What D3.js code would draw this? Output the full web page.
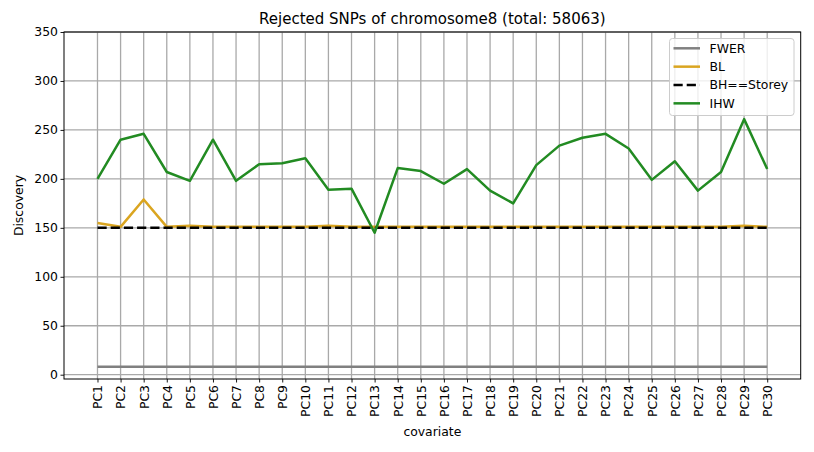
<!DOCTYPE html>
<html><head><meta charset="utf-8">
<script src="https://cdn.jsdelivr.net/npm/d3@7"></script>
<style>body{margin:0;background:#fff}text{font-family:"DejaVu Sans",sans-serif}</style>
</head><body><svg id="c" width="814" height="452"></svg>
<script>
const categories = Array.from({length:30},(_,i)=>"PC"+(i+1));
const fwer = [8,8,8,8,8,8,8,8,8,8,8,8,8,8,8,8,8,8,8,8,8,8,8,8,8,8,8,8,8,8];
const bl = [155,151,179,151,152,151,151,151,151,151,152,151,151,151,151,151,151,151,151,151,151,151,151,151,151,151,151,151,152,151];
const bhStorey = [150,150,150,150,150,150,150,150,150,150,150,150,150,150,150,150,150,150,150,150,150,150,150,150,150,150,150,150,150,150];
const ihw = [200,240,246,207,198,240,198,215,216,221,189,190,145,211,208,195,210,188,175,214,234,242,246,231,199,218,188,207,261,210];
const yTicks = [0,50,100,150,200,250,300,350];
const title = "Rejected SNPs of chromosome8 (total: 58063)";

const FS = "12.4px";
const svg = d3.select("#c");
const L=64,R=800.7,T=32,B=379;
const x = d3.scaleLinear().domain([-1.45,29+1.45]).range([L,R]);
const y = d3.scaleLinear().domain([0,350]).range([374.7,32]);
const g = svg.append("g");
// grid
g.selectAll(".gx").data(categories).join("line")
  .attr("x1",(d,i)=>x(i)).attr("x2",(d,i)=>x(i)).attr("y1",T).attr("y2",B)
  .attr("stroke","#a9a9a9").attr("stroke-width",1.3);
g.selectAll(".gy").data(yTicks).join("line")
  .attr("x1",L).attr("x2",R).attr("y1",d=>y(d)).attr("y2",d=>y(d))
  .attr("stroke","#a9a9a9").attr("stroke-width",1.3);

const series = [
  {name:"FWER",data:fwer,color:"#808080",dash:null},
  {name:"BL",data:bl,color:"#DAA520",dash:null},
  {name:"BH==Storey",data:bhStorey,color:"#000",dash:"9.2,4"},
  {name:"IHW",data:ihw,color:"#228B22",dash:null}
];
const line = d3.line().x((d,i)=>x(i)).y(d=>y(d));
series.forEach(s=>{
  g.append("path").attr("d",line(s.data)).attr("fill","none")
   .attr("stroke",s.color).attr("stroke-width",2.5)
   .attr("stroke-dasharray",s.dash).attr("stroke-linejoin","round");
});
// axes
const xa = svg.append("g").attr("transform",`translate(0,${B})`)
  .call(d3.axisBottom(x).tickValues(d3.range(30)).tickFormat(i=>categories[i]).tickSize(3.5).tickSizeOuter(0));
xa.select(".domain").remove();
xa.selectAll("text").attr("transform","rotate(-90)").attr("text-anchor","end")
  .attr("x",-6).attr("y",0).attr("dy","0.35em").attr("font-size",FS).attr("fill","#000")
  .style("font-family","DejaVu Sans");
const ya = svg.append("g").attr("transform",`translate(${L},0)`)
  .call(d3.axisLeft(y).tickValues(yTicks).tickSize(3.5).tickSizeOuter(0));
ya.select(".domain").remove();
ya.selectAll("text").attr("font-size",FS).attr("fill","#000").attr("x",-6).style("font-family","DejaVu Sans");
svg.selectAll(".tick line").attr("stroke","#000").attr("stroke-width",0.9);
svg.append("rect").attr("x",L).attr("y",T).attr("width",R-L).attr("height",B-T)
  .attr("fill","none").attr("stroke","#000").attr("stroke-width",1);
// title & labels
svg.append("text").attr("x",(L+R)/2).attr("y",24).attr("text-anchor","middle").attr("font-size","15px").text(title);
svg.append("text").attr("x",(L+R)/2).attr("y",436).attr("text-anchor","middle").attr("font-size",FS).text("covariate");
svg.append("text").attr("transform",`translate(23,${(T+B)/2}) rotate(-90)`).attr("text-anchor","middle").attr("font-size",FS).text("Discovery");
// legend
const lg = svg.append("g");
lg.append("rect").attr("x",669.5).attr("y",38.5).attr("width",124.5).attr("height",77).attr("rx",3)
  .attr("fill","#fff").attr("fill-opacity",0.8).attr("stroke","#cccccc");
series.forEach((s,i)=>{
  const yy = 48.3+i*18.35;
  lg.append("line").attr("x1",673.5).attr("x2",700).attr("y1",yy).attr("y2",yy)
    .attr("stroke",s.color).attr("stroke-width",2.5).attr("stroke-dasharray",s.dash);
  lg.append("text").attr("x",709.5).attr("y",yy).attr("dy","0.36em").attr("font-size",FS).text(s.name);
});
</script></body></html>
